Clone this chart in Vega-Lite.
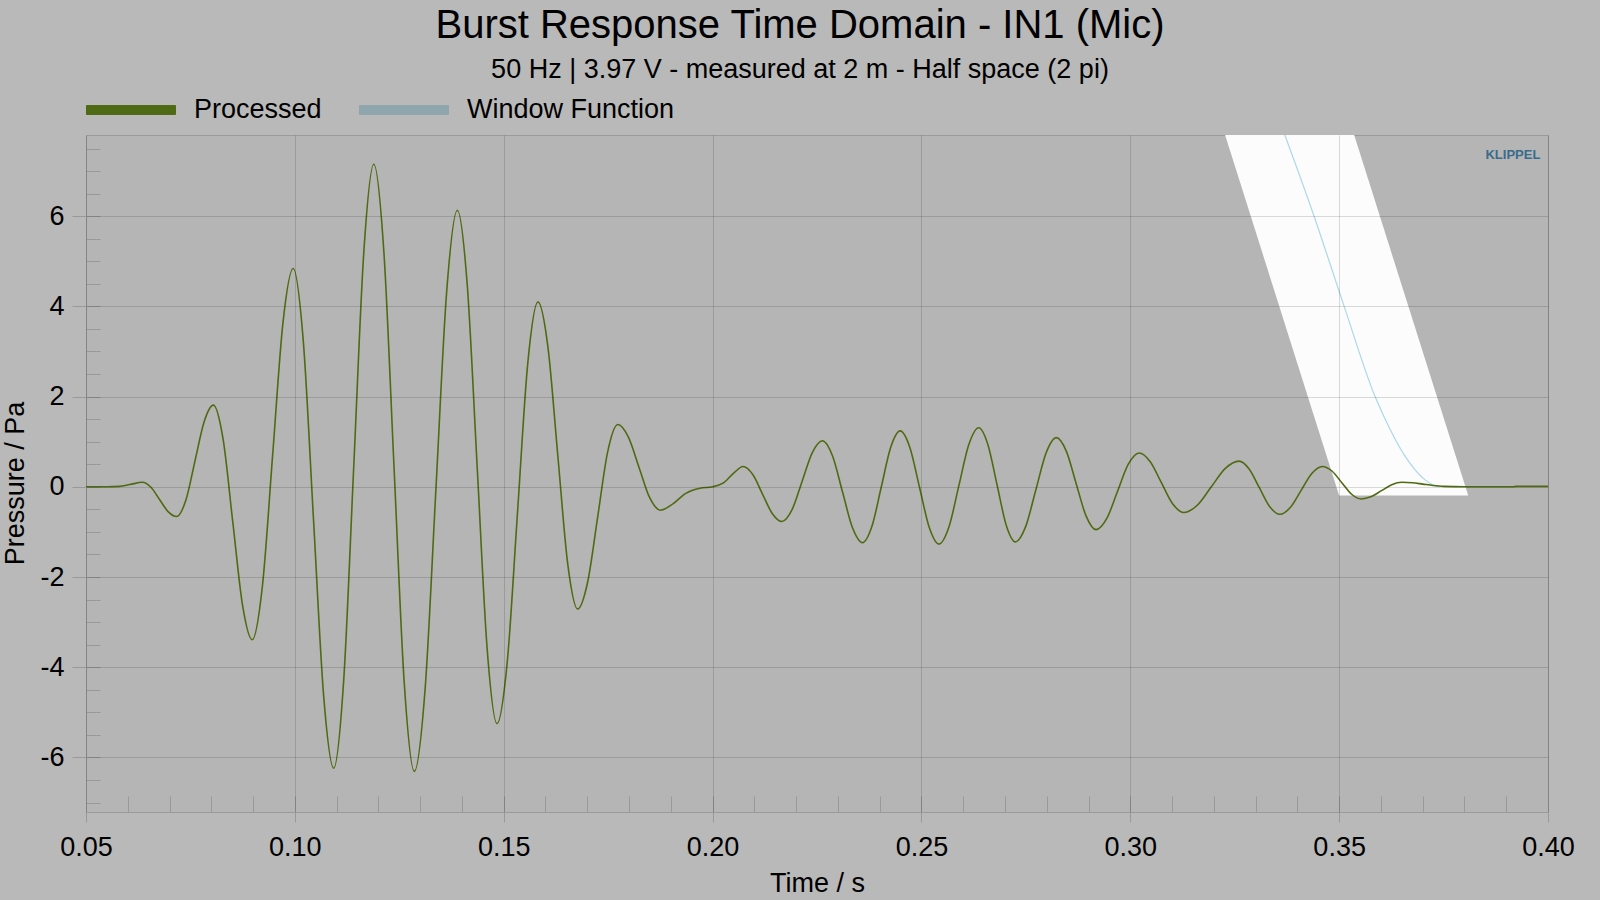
{
 "$schema": "https://vega.github.io/schema/vega-lite/v6.json",
 "width": 1462, "height": 677,
 "autosize": {"type": "none"},
 "padding": {"left": 86, "top": 135, "right": 52, "bottom": 88},
 "background": "#b9b9b9",
 "config": {
  "font": "Liberation Sans",
  "view": {"fill": "#b5b5b5", "stroke": "#9a9a9a", "strokeWidth": 1}
 },
 "title": {
  "text": "Burst Response Time Domain - IN1 (Mic)",
  "subtitle": "50 Hz | 3.97 V - measured at 2 m - Half space (2 pi)",
  "anchor": "middle", "frame": "group", "dx": -17, "offset": -18,
  "font": "Liberation Sans", "fontSize": 40, "fontWeight": "normal", "color": "#000000",
  "subtitleFont": "Liberation Sans", "subtitleFontSize": 27, "subtitleColor": "#000000", "subtitlePadding": 11
 },
 "datasets": {
  "band": [
   {"p": 8.2, "tl": 0.32133, "tr": 0.35223},
   {"p": -0.19, "tl": 0.35, "tr": 0.3809}
  ],
  "proc": [
   {"t":0.050,"p":0,"s":"Processed"},{"t":0.055,"p":0,"s":"Processed"},{"t":0.058,"p":0.01,"s":"Processed"},{"t":0.0605,"p":0.05,"s":"Processed"},{"t":0.0635,"p":0.1,"s":"Processed"},
   {"t":0.06555,"p":-0.01,"s":"Processed"},{"t":0.0676,"p":-0.28,"s":"Processed"},{"t":0.06965,"p":-0.55,"s":"Processed"},{"t":0.0717,"p":-0.66,"s":"Processed"},
   {"t":0.0739,"p":-0.30,"s":"Processed"},{"t":0.0761,"p":0.575,"s":"Processed"},{"t":0.0783,"p":1.448,"s":"Processed"},{"t":0.0805,"p":1.81,"s":"Processed"},
   {"t":0.08283,"p":1.049,"s":"Processed"},{"t":0.08515,"p":-0.79,"s":"Processed"},{"t":0.08748,"p":-2.629,"s":"Processed"},{"t":0.0898,"p":-3.39,"s":"Processed"},
   {"t":0.09225,"p":-2.185,"s":"Processed"},{"t":0.0947,"p":0.725,"s":"Processed"},{"t":0.09715,"p":3.635,"s":"Processed"},{"t":0.0996,"p":4.84,"s":"Processed"},
   {"t":0.10203,"p":3.218,"s":"Processed"},{"t":0.10445,"p":-0.70,"s":"Processed"},{"t":0.10688,"p":-4.618,"s":"Processed"},{"t":0.1093,"p":-6.24,"s":"Processed"},
   {"t":0.1117,"p":-4.28,"s":"Processed"},{"t":0.1141,"p":0.455,"s":"Processed"},{"t":0.1165,"p":5.19,"s":"Processed"},{"t":0.1189,"p":7.15,"s":"Processed"},
   {"t":0.12133,"p":5.179,"s":"Processed"},{"t":0.12375,"p":0.42,"s":"Processed"},{"t":0.12618,"p":-4.339,"s":"Processed"},{"t":0.1286,"p":-6.31,"s":"Processed"},
   {"t":0.13118,"p":-4.489,"s":"Processed"},{"t":0.13375,"p":-0.09,"s":"Processed"},{"t":0.13633,"p":4.309,"s":"Processed"},{"t":0.1389,"p":6.13,"s":"Processed"},
   {"t":0.14128,"p":4.464,"s":"Processed"},{"t":0.14365,"p":0.44,"s":"Processed"},{"t":0.14603,"p":-3.584,"s":"Processed"},{"t":0.1484,"p":-5.25,"s":"Processed"},
   {"t":0.15085,"p":-3.881,"s":"Processed"},{"t":0.1533,"p":-0.575,"s":"Processed"},{"t":0.15575,"p":2.731,"s":"Processed"},{"t":0.1582,"p":4.10,"s":"Processed"},
   {"t":0.16058,"p":3.103,"s":"Processed"},{"t":0.16295,"p":0.695,"s":"Processed"},{"t":0.16533,"p":-1.713,"s":"Processed"},{"t":0.1677,"p":-2.71,"s":"Processed"},
   {"t":0.1701,"p":-2.111,"s":"Processed"},{"t":0.1725,"p":-0.665,"s":"Processed"},{"t":0.1749,"p":0.781,"s":"Processed"},{"t":0.1773,"p":1.38,"s":"Processed"},
   {"t":0.17985,"p":1.102,"s":"Processed"},{"t":0.1824,"p":0.43,"s":"Processed"},{"t":0.18495,"p":-0.242,"s":"Processed"},{"t":0.1875,"p":-0.52,"s":"Processed"},
   {"t":0.1905,"p":-0.38,"s":"Processed"},{"t":0.1935,"p":-0.15,"s":"Processed"},{"t":0.197,"p":-0.03,"s":"Processed"},{"t":0.200,"p":0.0,"s":"Processed"},
   {"t":0.2025,"p":0.08,"s":"Processed"},{"t":0.2050,"p":0.30,"s":"Processed"},{"t":0.2073,"p":0.45,"s":"Processed"},
   {"t":0.20963,"p":0.271,"s":"Processed"},{"t":0.21195,"p":-0.16,"s":"Processed"},{"t":0.21428,"p":-0.591,"s":"Processed"},{"t":0.2166,"p":-0.77,"s":"Processed"},
   {"t":0.21903,"p":-0.508,"s":"Processed"},{"t":0.22145,"p":0.125,"s":"Processed"},{"t":0.22388,"p":0.758,"s":"Processed"},{"t":0.2263,"p":1.02,"s":"Processed"},
   {"t":0.2287,"p":0.689,"s":"Processed"},{"t":0.2311,"p":-0.11,"s":"Processed"},{"t":0.2335,"p":-0.909,"s":"Processed"},{"t":0.2359,"p":-1.24,"s":"Processed"},
   {"t":0.23815,"p":-0.877,"s":"Processed"},{"t":0.2404,"p":0.0,"s":"Processed"},{"t":0.24265,"p":0.877,"s":"Processed"},{"t":0.2449,"p":1.24,"s":"Processed"},
   {"t":0.24723,"p":0.873,"s":"Processed"},{"t":0.24955,"p":-0.015,"s":"Processed"},{"t":0.25188,"p":-0.903,"s":"Processed"},{"t":0.2542,"p":-1.27,"s":"Processed"},
   {"t":0.25658,"p":-0.892,"s":"Processed"},{"t":0.25895,"p":0.02,"s":"Processed"},{"t":0.26133,"p":0.932,"s":"Processed"},{"t":0.2637,"p":1.31,"s":"Processed"},
   {"t":0.2659,"p":0.94,"s":"Processed"},{"t":0.2681,"p":0.045,"s":"Processed"},{"t":0.2703,"p":-0.85,"s":"Processed"},{"t":0.2725,"p":-1.22,"s":"Processed"},
   {"t":0.27495,"p":-0.882,"s":"Processed"},{"t":0.2774,"p":-0.065,"s":"Processed"},{"t":0.27985,"p":0.752,"s":"Processed"},{"t":0.2823,"p":1.09,"s":"Processed"},
   {"t":0.28468,"p":0.791,"s":"Processed"},{"t":0.28705,"p":0.07,"s":"Processed"},{"t":0.28943,"p":-0.651,"s":"Processed"},{"t":0.2918,"p":-0.95,"s":"Processed"},
   {"t":0.29438,"p":-0.701,"s":"Processed"},{"t":0.29695,"p":-0.10,"s":"Processed"},{"t":0.29953,"p":0.501,"s":"Processed"},{"t":0.3021,"p":0.75,"s":"Processed"},
   {"t":0.30478,"p":0.557,"s":"Processed"},{"t":0.30745,"p":0.09,"s":"Processed"},{"t":0.31013,"p":-0.377,"s":"Processed"},{"t":0.3128,"p":-0.57,"s":"Processed"},
   {"t":0.3161,"p":-0.403,"s":"Processed"},{"t":0.3194,"p":0.0,"s":"Processed"},{"t":0.3227,"p":0.403,"s":"Processed"},{"t":0.3260,"p":0.57,"s":"Processed"},
   {"t":0.32845,"p":0.397,"s":"Processed"},{"t":0.3309,"p":-0.02,"s":"Processed"},{"t":0.33335,"p":-0.437,"s":"Processed"},{"t":0.3358,"p":-0.61,"s":"Processed"},
   {"t":0.33835,"p":-0.455,"s":"Processed"},{"t":0.3409,"p":-0.08,"s":"Processed"},{"t":0.34345,"p":0.295,"s":"Processed"},{"t":0.3460,"p":0.45,"s":"Processed"},
   {"t":0.34833,"p":0.345,"s":"Processed"},{"t":0.35065,"p":0.09,"s":"Processed"},{"t":0.35298,"p":-0.165,"s":"Processed"},{"t":0.3553,"p":-0.27,"s":"Processed"},
   {"t":0.35773,"p":-0.216,"s":"Processed"},{"t":0.36015,"p":-0.085,"s":"Processed"},{"t":0.36258,"p":0.046,"s":"Processed"},{"t":0.3650,"p":0.10,"s":"Processed"},
   {"t":0.3675,"p":0.09,"s":"Processed"},{"t":0.370,"p":0.06,"s":"Processed"},{"t":0.3725,"p":0.03,"s":"Processed"},{"t":0.375,"p":0.01,"s":"Processed"},
   {"t":0.380,"p":0.0,"s":"Processed"},{"t":0.392,"p":0.0,"s":"Processed"},{"t":0.3921,"p":0.01,"s":"Processed"},{"t":0.400,"p":0.01,"s":"Processed"}
  ],
  "win": [
   {"t":0.3354,"p":8.2,"s":"Window Function"},{"t":0.3370,"p":7.8,"s":"Window Function"},{"t":0.3440,"p":6.0,"s":"Window Function"},
   {"t":0.3512,"p":4.0,"s":"Window Function"},{"t":0.3586,"p":2.0,"s":"Window Function"},{"t":0.3626,"p":1.2,"s":"Window Function"},
   {"t":0.3655,"p":0.72,"s":"Window Function"},{"t":0.3680,"p":0.40,"s":"Window Function"},{"t":0.3705,"p":0.16,"s":"Window Function"},
   {"t":0.3725,"p":0.04,"s":"Window Function"},{"t":0.3740,"p":0.0,"s":"Window Function"}
  ]
 },
 "layer": [
  {
   "data": {"name": "band"},
   "mark": {"type": "area", "orient": "horizontal", "fill": "#ffffff", "opacity": 0.96, "clip": true},
   "encoding": {
    "y": {"field": "p", "type": "quantitative",
     "scale": {"domain": [-7.21, 7.8], "nice": false, "zero": false},
     "axis": {"orient": "left", "values": [-6,-4,-2,0,2,4,6], "labelExpr": "'' + datum.value",
      "title": "Pressure / Pa", "titleFontSize": 27, "titleFontWeight": "normal", "titleColor": "#000000",
      "titleX": -63, "titleY": 348, "titleAngle": 270, "titleBaseline": "alphabetic", "titleAlign": "center",
      "labelFontSize": 27, "labelColor": "#000000", "labelPadding": 8, "labelOverlap": false, "labelBound": false, "labelFlush": false,
      "tickSize": 14, "tickColor": "#999999", "tickWidth": 1, "domain": false,
      "grid": true, "gridColor": "#000000", "gridOpacity": 0.14, "gridWidth": 1, "zindex": 1}},
    "x": {"field": "tl", "type": "quantitative",
     "scale": {"domain": [0.05, 0.4], "nice": false, "zero": false},
     "axis": {"orient": "bottom", "values": [0.05,0.1,0.15,0.2,0.25,0.3,0.35,0.4], "format": ".2f",
      "title": "Time / s", "titleFontSize": 27, "titleFontWeight": "normal", "titleColor": "#000000",
      "titleY": 79, "titleBaseline": "alphabetic",
      "labelFontSize": 27, "labelColor": "#000000", "labelPadding": 12, "labelOverlap": false, "labelBound": false, "labelFlush": false,
      "tickSize": 10, "tickColor": "#999999", "tickWidth": 1, "domain": false,
      "grid": true, "gridColor": "#000000", "gridOpacity": 0.14, "gridWidth": 1, "zindex": 1}},
    "x2": {"field": "tr"}
   }
  },
  {
   "data": {"name": "win"},
   "mark": {"type": "line", "interpolate": "monotone", "clip": true, "stroke": "#acd8e8", "strokeWidth": 1.2},
   "encoding": {
    "x": {"field": "t", "type": "quantitative", "axis": null},
    "y": {"field": "p", "type": "quantitative", "axis": null}
   }
  },
  {
   "data": {"name": "proc"},
   "mark": {"type": "line", "interpolate": "monotone", "clip": true, "strokeWidth": 1.6},
   "encoding": {
    "x": {"field": "t", "type": "quantitative",
     "axis": {"orient": "bottom", "values": [0.06,0.07,0.08,0.09,0.1,0.11,0.12,0.13,0.14,0.15,0.16,0.17,0.18,0.19,0.2,0.21,0.22,0.23,0.24,0.25,0.26,0.27,0.28,0.29,0.3,0.31,0.32,0.33,0.34,0.35,0.36,0.37,0.38,0.39],
      "labels": false, "domain": false, "grid": false, "ticks": true, "tickSize": -16, "tickColor": "#999999", "tickWidth": 1, "title": null}},
    "y": {"field": "p", "type": "quantitative",
     "axis": {"orient": "left", "values": [-7,-6.5,-6,-5.5,-5,-4.5,-4,-3.5,-3,-2.5,-2,-1.5,-1,-0.5,0,0.5,1,1.5,2,2.5,3,3.5,4,4.5,5,5.5,6,6.5,7,7.5],
      "labels": false, "domain": false, "grid": false, "ticks": true, "tickSize": -14, "tickColor": "#999999", "tickWidth": 1, "title": null}},
    "color": {"field": "s", "type": "nominal",
     "scale": {"domain": ["Processed", "Window Function"], "range": ["#4f6a12", "#90a6ae"]},
     "legend": {"orient": "none", "legendX": 0, "legendY": -70, "direction": "horizontal", "title": null,
      "symbolType": "M-1,-0.1H1V0.1H-1Z", "symbolSize": 7921, "symbolStrokeWidth": 1,
      "labelFontSize": 27, "labelColor": "#000000", "labelFont": "Liberation Sans", "labelOffset": 18, "labelLimit": 400,
      "columnPadding": 35, "padding": 0,
      "encode": {"symbols": {"update": {
       "fill": {"signal": "datum.value === 'Window Function' ? '#90a6ae' : '#4f6a14'"},
       "stroke": {"value": "#8e8e8e"}, "strokeWidth": {"value": 1}, "opacity": {"value": 1}}}}}}
   }
  },
  {
   "data": {"values": [{"label": "KLIPPEL"}]},
   "mark": {"type": "text", "font": "Liberation Sans", "fontWeight": "bold", "fontSize": 13, "fill": "#3b6b8c"},
   "encoding": {
    "text": {"field": "label"},
    "x": {"datum": 0.3916, "type": "quantitative", "axis": null},
    "y": {"datum": 7.36, "type": "quantitative", "axis": null}
   }
  }
 ],
 "resolve": {"axis": {"x": "independent", "y": "independent"}}
}
